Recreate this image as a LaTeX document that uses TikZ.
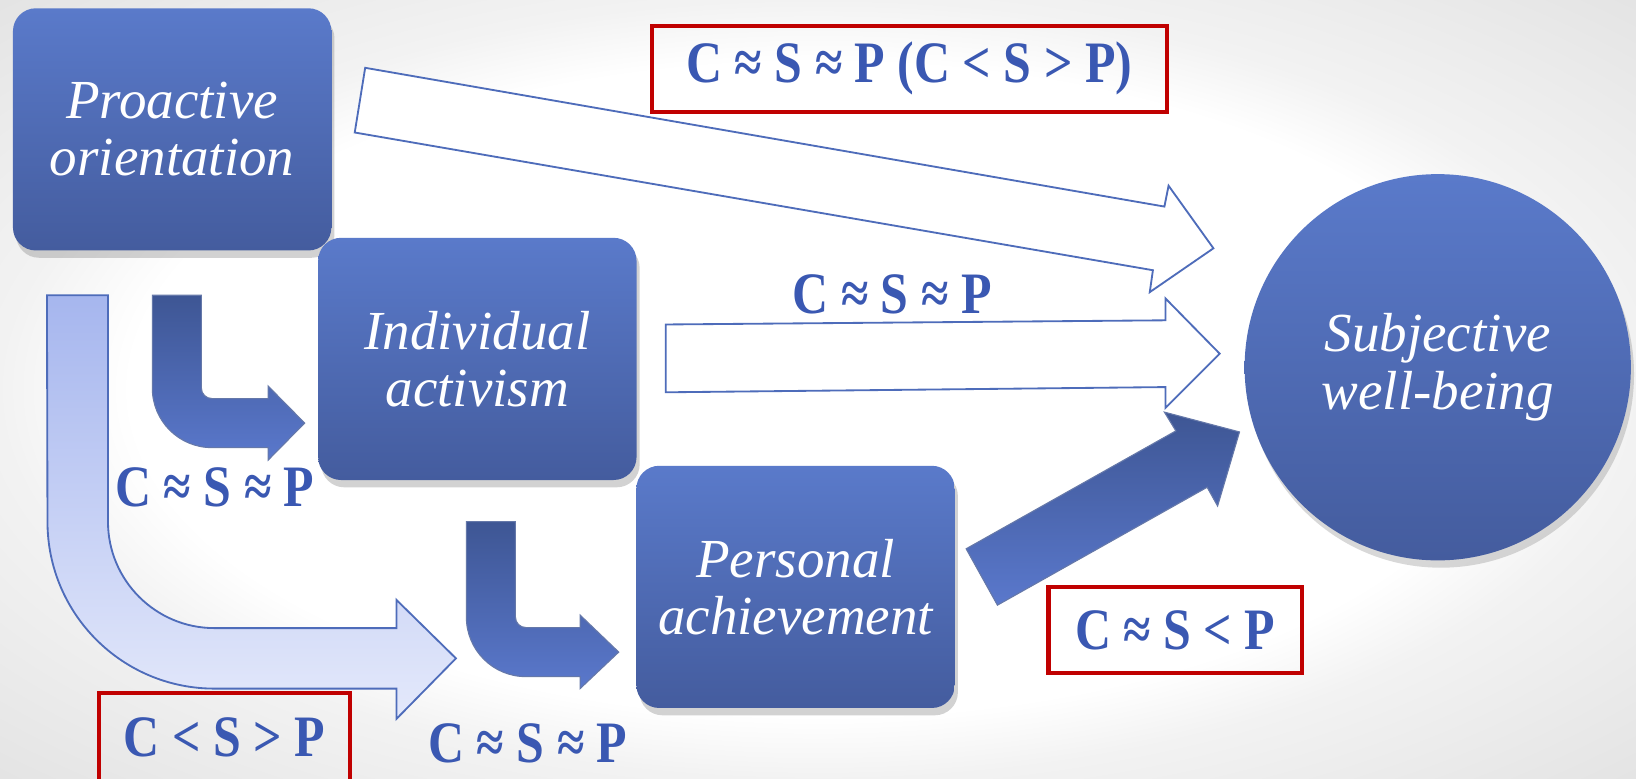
\documentclass[tikz,border=0pt]{standalone}
\usepackage{fontspec}
\setmainfont{Liberation Serif}
\usepackage{graphicx}
\usetikzlibrary{shadows}
\definecolor{BoxTop}{RGB}{90,122,202}
\definecolor{BoxBottom}{RGB}{68,92,158}
\definecolor{DarkArrow}{RGB}{62,86,148}
\definecolor{MidArrow}{RGB}{90,120,204}
\definecolor{PaleTop}{RGB}{166,182,238}
\definecolor{PaleBottom}{RGB}{228,233,251}
\definecolor{ArrowLine}{RGB}{78,108,186}
\definecolor{RelRed}{RGB}{192,0,0}
\definecolor{RelBlue}{RGB}{58,88,178}
\pgfdeclareradialshading{slide}{\pgfpoint{0bp}{0bp}}{color(0bp)=(white); color(21bp)=(white);
  color(25bp)=(black!5); color(36bp)=(black!11); color(50bp)=(black!11)}

\newcommand{\rel}[1]{\scalebox{.85}[1]{#1}}

\tikzset{
  box/.style={rounded corners=2.2mm, top color=BoxTop, bottom color=BoxBottom,
    minimum width=3.05cm, minimum height=2.32cm, text=white, align=center,
    font=\fontsize{15}{15.6}\selectfont\itshape,
    drop shadow={shadow xshift=.3mm, shadow yshift=-.7mm, opacity=.35}},
  goal/.style={circle, top color=BoxTop, bottom color=BoxBottom, minimum size=3.7cm,
    text=white, align=center, font=\fontsize{15}{15.6}\selectfont\itshape,
    drop shadow={shadow xshift=.3mm, shadow yshift=-.7mm, opacity=.3}},
  relation/.style={text=RelBlue, font=\fontsize{16}{18}\selectfont\bfseries, inner sep=0pt},
  redbox/.style={relation, draw=RelRed, line width=1.1pt, minimum height=.82cm},
  whitearrow/.style={fill=white, draw=ArrowLine, line width=.5pt, line join=miter},
  darkarrow/.style={top color=DarkArrow, bottom color=MidArrow, draw=DarkArrow!80!white, line width=.3pt},
  palearrow/.style={top color=PaleTop, bottom color=PaleBottom, draw=ArrowLine, line width=.5pt}
}

\begin{document}
\begin{tikzpicture}[x=0.01cm, y=-0.01cm]
\clip (0,0) rectangle (1568,746);
\shade[shading=slide] (0,0) rectangle (1568,746);

% straight arrows
\draw[whitearrow] (350,65) -- (1116,198) -- (1120,178) -- (1163,238) -- (1102,280)
  -- (1105,259) -- (340,127) -- cycle;
\draw[whitearrow] (638,311) -- (1117,307) -- (1117,286) -- (1169,339) -- (1117,391)
  -- (1117,371) -- (638,376) -- cycle;

% bent arrows
\draw[palearrow] (45,283) -- (103.5,283) -- (103.5,500)
  .. controls (103.5,556.3) and (149.2,602) .. (205.5,602) -- (380,602) -- (380,575)
  -- (437,631) -- (380,689) -- (380,660) -- (205.5,660)
  .. controls (117.1,660) and (45.5,588.4) .. (45.5,500) -- cycle;
\draw[darkarrow] (146,283) -- (193,283) -- (193,372)
  .. controls (193,377.5) and (197.5,382) .. (203,382) -- (257,382) -- (257,370)
  -- (292,405.5) -- (257,441) -- (257,429) -- (203,429)
  .. controls (171.5,429) and (146,403.5) .. (146,372) -- cycle;
\draw[darkarrow] (447,500) -- (494,500) -- (494,591.5)
  .. controls (494,597) and (498.5,601.5) .. (504,601.5) -- (556,601.5) -- (556,589.5)
  -- (593,625) -- (556,660) -- (556,648.5) -- (504,648.5)
  .. controls (472.5,648.5) and (447,623) .. (447,591.5) -- cycle;

\draw[darkarrow] (926,526) -- (1127,413) -- (1116,395) -- (1188,414) -- (1167,485)
  -- (1157,467) -- (956,580) -- cycle;

% boxes
\node[box] (proactive) at (165,124) {Proactive\\orientation};
\node[box] (activism) at (457.5,344) {Individual\\activism};
\node[box] (achieve) at (762.5,562.5) {Personal\\achievement};
\node[goal] (wellbeing) at (1378,352) {Subjective\\well-being};

% relations
\node[redbox, minimum width=4.93cm] (relTop) at (871.5,66) {\rel{C ≈ S ≈ P (C < S > P)}};
\node[relation] (relMid) at (855,282) {\rel{C ≈ S ≈ P}};
\node[relation] (relLeft) at (206,467) {\rel{C ≈ S ≈ P}};
\node[relation] (relLow) at (506,712) {\rel{C ≈ S ≈ P}};
\node[redbox, minimum width=2.43cm] (relRight) at (1126.5,604) {\rel{C ≈ S < P}};
\node[redbox, minimum width=2.41cm, minimum height=.86cm] (relPale) at (215,707) {\rel{C < S > P}};

\end{tikzpicture}
\end{document}
